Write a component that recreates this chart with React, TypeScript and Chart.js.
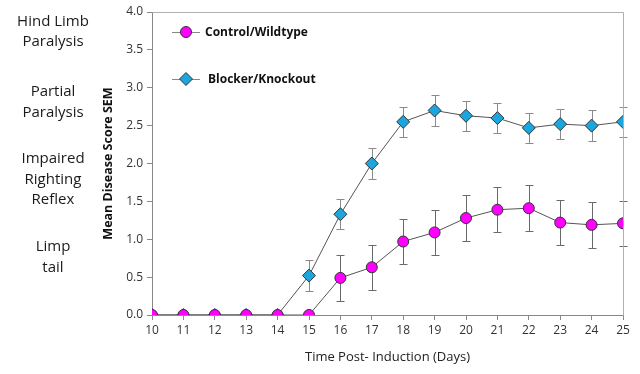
import React, { useEffect, useRef } from "react";
import { Chart, registerables } from "chart.js";

Chart.register(...registerables);

const days = [10, 11, 12, 13, 14, 15, 16, 17, 18, 19, 20, 21, 22, 23, 24, 25];
const controlMean = [0, 0, 0, 0, 0, 0, 0.49, 0.63, 0.97, 1.09, 1.28, 1.39, 1.41, 1.22, 1.19, 1.21];
const controlSem = [0, 0, 0, 0, 0, 0, 0.3, 0.3, 0.3, 0.3, 0.3, 0.3, 0.3, 0.3, 0.3, 0.3];
const blockerMean = [0, 0, 0, 0, 0, 0.52, 1.33, 2.0, 2.55, 2.7, 2.63, 2.6, 2.47, 2.52, 2.5, 2.55];
const blockerSem = [0, 0, 0, 0, 0, 0.2, 0.2, 0.2, 0.2, 0.2, 0.2, 0.2, 0.2, 0.2, 0.2, 0.2];
const seriesNames = ["Control/Wildtype", "Blocker/Knockout"];
const severityLabels = [
  { lines: ["Hind Limb", "Paralysis"], score: 3.74 },
  { lines: ["Partial", "Paralysis"], score: 2.81 },
  { lines: ["Impaired", "Righting", "Reflex"], score: 1.79 },
  { lines: ["Limp", "tail"], score: 0.76 },
];
const yTitle = "Mean Disease Score SEM";
const xTitle = "Time Post- Induction (Days)";

const FONT = "'Open Sans', 'DejaVu Sans', sans-serif";
const CONTROL_COLOR = "#FF00FF";
const BLOCKER_COLOR = "#1AA7E0";

const sems = [controlSem, blockerSem];

const errorBarPlugin = {
  id: "errorBars",
  beforeDatasetsDraw(chart: any) {
    const ctx = chart.ctx;
    const xs = chart.scales.x;
    const ys = chart.scales.y;
    ctx.save();
    ctx.lineWidth = 1;
    chart.data.datasets.forEach((ds: any, di: number) => {
      ctx.strokeStyle = di === 0 ? "#6a6a6a" : "#8a8a8a";
      ds.data.forEach((p: any, i: number) => {
        const s = sems[di][i];
        if (!s) return;
        const x = Math.round(xs.getPixelForValue(p.x)) + 0.5;
        const yt = Math.round(ys.getPixelForValue(p.y + s)) + 0.5;
        const yb = Math.round(ys.getPixelForValue(p.y - s)) + 0.5;
        ctx.beginPath();
        ctx.moveTo(x, yt);
        ctx.lineTo(x, yb);
        ctx.moveTo(x - 4, yt);
        ctx.lineTo(x + 4, yt);
        ctx.moveTo(x - 4, yb);
        ctx.lineTo(x + 4, yb);
        ctx.stroke();
      });
    });
    ctx.restore();
  },
};

const decorPlugin = {
  id: "decor",
  beforeDraw(chart: any) {
    const ctx = chart.ctx;
    ctx.save();
    ctx.fillStyle = "#ffffff";
    ctx.fillRect(0, 0, chart.width, chart.height);
    ctx.restore();
  },
  afterDraw(chart: any) {
    const ctx = chart.ctx;
    const a = chart.chartArea;
    const ys = chart.scales.y;
    ctx.save();
    // top & right border
    ctx.strokeStyle = "#b0b0b0";
    ctx.lineWidth = 1;
    ctx.beginPath();
    ctx.moveTo(Math.round(a.left) + 0.5, Math.round(a.top) + 0.5);
    ctx.lineTo(Math.round(a.right) + 0.5, Math.round(a.top) + 0.5);
    ctx.lineTo(Math.round(a.right) + 0.5, Math.round(a.bottom) + 0.5);
    ctx.stroke();

    // severity labels on the left
    ctx.fillStyle = "#1a1a1a";
    ctx.font = `15px ${FONT}`;
    ctx.textAlign = "center";
    ctx.textBaseline = "middle";
    const lh = 20.5;
    severityLabels.forEach((g) => {
      const cy = ys.getPixelForValue(g.score);
      const n = g.lines.length;
      g.lines.forEach((t, i) => {
        ctx.fillText(t, 53, cy + (i - (n - 1) / 2) * lh);
      });
    });

    // legend
    const items = [
      { y: 32, color: CONTROL_COLOR, style: "circle", text: seriesNames[0], tx: 205 },
      { y: 79, color: BLOCKER_COLOR, style: "diamond", text: seriesNames[1], tx: 208 },
    ];
    items.forEach((it) => {
      const mx = 186;
      ctx.strokeStyle = "#888";
      ctx.lineWidth = 1;
      ctx.beginPath();
      ctx.moveTo(172, it.y + 0.5);
      ctx.lineTo(200, it.y + 0.5);
      ctx.stroke();
      ctx.fillStyle = it.color;
      ctx.strokeStyle = "#333";
      ctx.beginPath();
      if (it.style === "circle") {
        ctx.arc(mx, it.y, 5.5, 0, Math.PI * 2);
      } else {
        ctx.moveTo(mx, it.y - 6.5);
        ctx.lineTo(mx + 6.5, it.y);
        ctx.lineTo(mx, it.y + 6.5);
        ctx.lineTo(mx - 6.5, it.y);
        ctx.closePath();
      }
      ctx.fill();
      ctx.stroke();
      ctx.fillStyle = "#111";
      ctx.font = `bold 12px ${FONT}`;
      ctx.textAlign = "left";
      ctx.textBaseline = "middle";
      ctx.fillText(it.text, it.tx, it.y + 1);
    });
    ctx.restore();
  },
};

export default function App() {
  const ref = useRef<HTMLCanvasElement | null>(null);
  useEffect(() => {
    if (!ref.current) return;
    const chart = new Chart(ref.current, {
      type: "line",
      data: {
        datasets: [
          {
            label: seriesNames[0],
            data: days.map((d, i) => ({ x: d, y: controlMean[i] })),
            borderColor: "#555",
            borderWidth: 1,
            backgroundColor: CONTROL_COLOR,
            pointBackgroundColor: CONTROL_COLOR,
            pointBorderColor: "#333",
            pointBorderWidth: 1,
            pointRadius: 5.5,
            pointStyle: "circle",
            tension: 0,
          },
          {
            label: seriesNames[1],
            data: days.map((d, i) => ({ x: d, y: blockerMean[i] })),
            borderColor: "#555",
            borderWidth: 1,
            backgroundColor: BLOCKER_COLOR,
            pointBackgroundColor: BLOCKER_COLOR,
            pointBorderColor: "#333",
            pointBorderWidth: 1,
            pointRadius: 6.5,
            pointStyle: "rectRot",
            tension: 0,
          },
        ],
      },
      options: {
        animation: false,
        responsive: false,
        maintainAspectRatio: false,
        layout: { padding: { left: 98, right: 17, top: 12, bottom: 9 } },
        plugins: { legend: { display: false }, tooltip: { enabled: false } },
        scales: {
          x: {
            type: "linear",
            min: 10,
            max: 25,
            ticks: {
              stepSize: 1,
              color: "#333",
              font: { family: FONT, size: 12 },
              padding: 3,
              maxRotation: 0,
            },
            grid: { drawOnChartArea: false, tickLength: 5, color: "#888" },
            border: { color: "#888" },
            title: {
              display: true,
              text: xTitle,
              color: "#222",
              font: { family: FONT, size: 13 },
              padding: { top: 9, bottom: 0 },
            },
          },
          y: {
            min: 0,
            max: 4,
            ticks: {
              stepSize: 0.5,
              color: "#333",
              font: { family: FONT, size: 12 },
              padding: 4,
              callback: (v: any) => Number(v).toFixed(1),
            },
            grid: { drawOnChartArea: false, tickLength: 5, color: "#888" },
            border: { color: "#888" },
            title: {
              display: true,
              text: yTitle,
              color: "#111",
              font: { family: FONT, size: 12.5, weight: "bold" },
              padding: { top: 3, bottom: 4 },
            },
            afterFit: (s: any) => {
              s.width = 54;
            },
          },
        },
      },
      plugins: [errorBarPlugin, decorPlugin],
    });
    return () => chart.destroy();
  }, []);
  return (
    <div style={{ position: "fixed", left: 0, top: 0, width: 640, height: 374, background: "#fff" }}>
      <canvas ref={ref} width={640} height={374} style={{ width: 640, height: 374, display: "block" }} />
    </div>
  );
}
